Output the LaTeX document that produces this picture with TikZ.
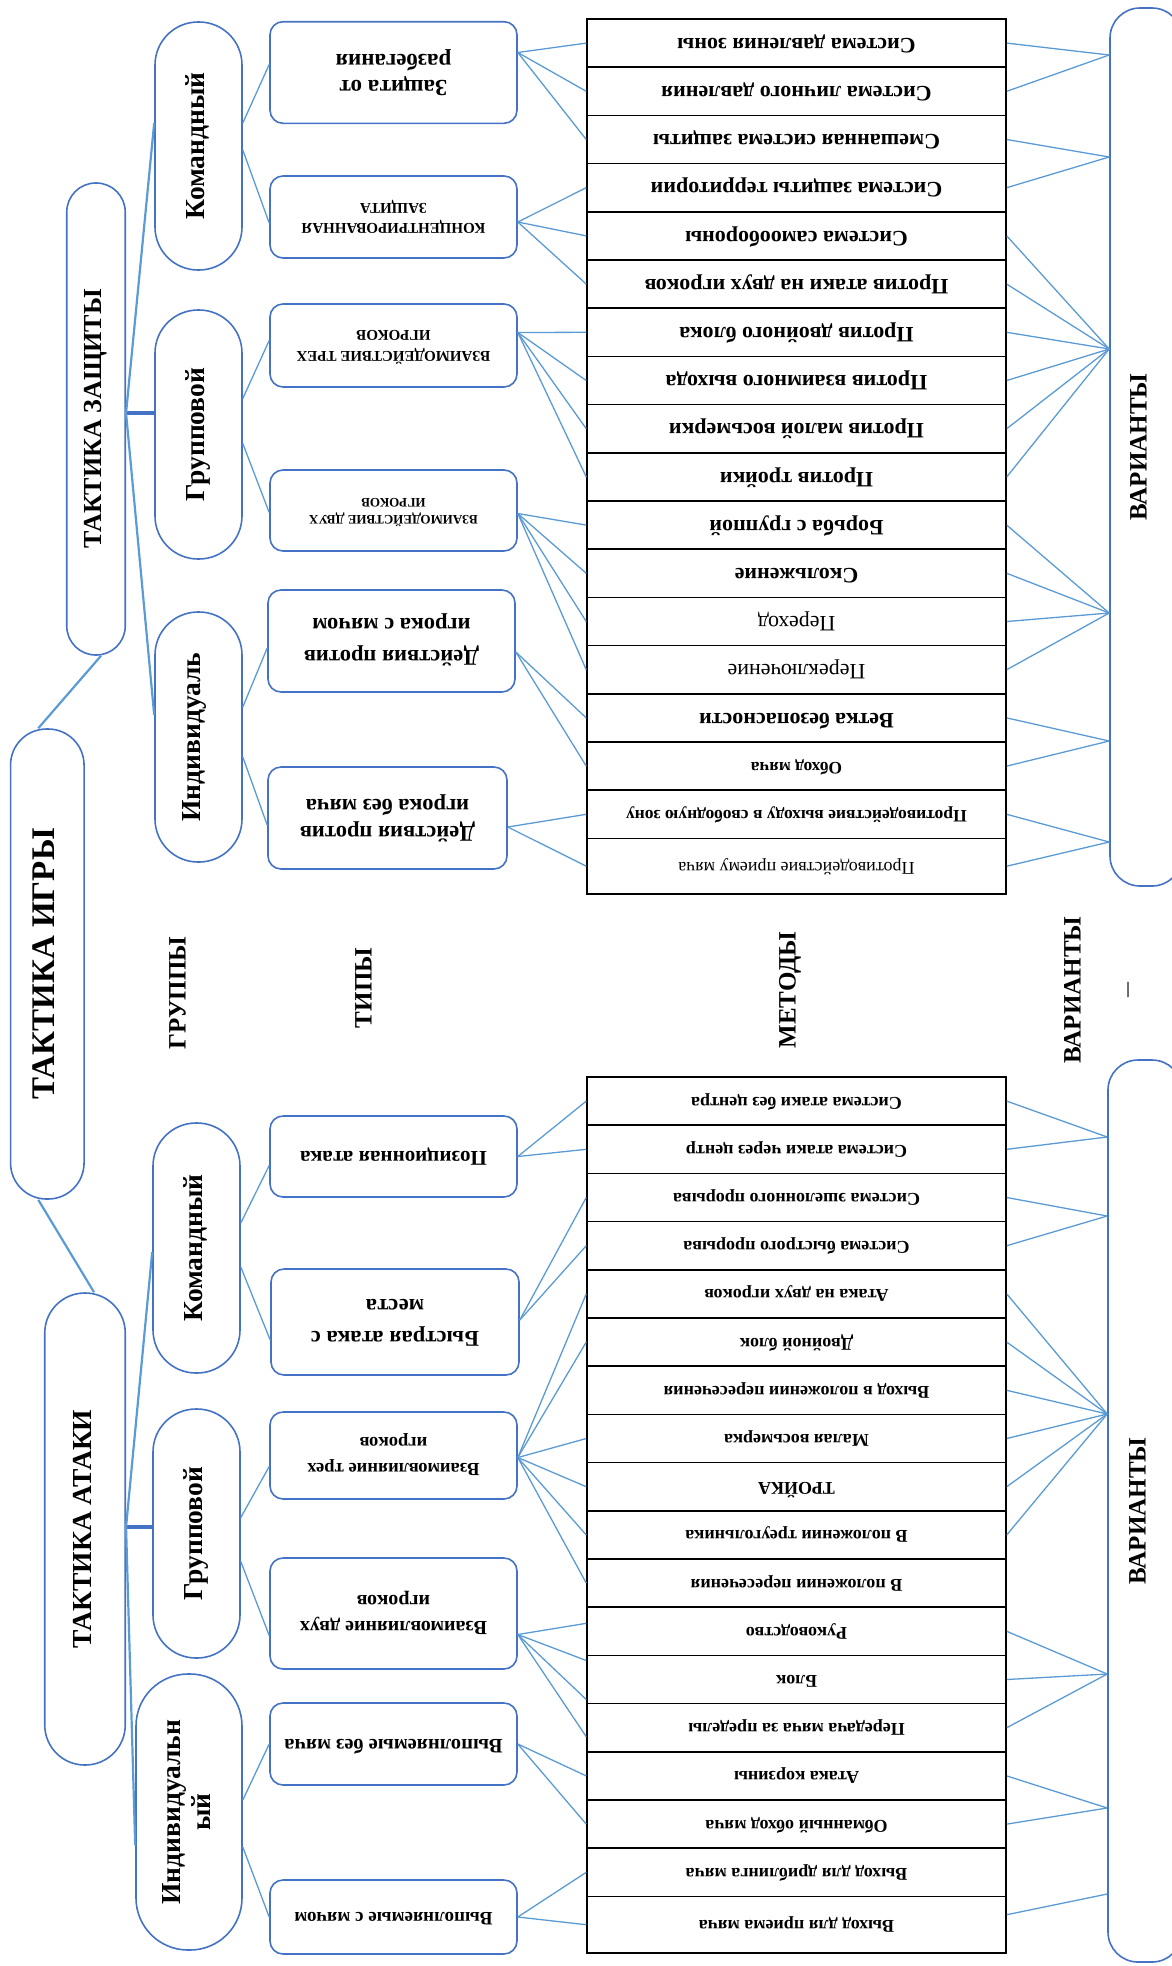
\documentclass[tikz,border=0pt]{standalone}
\usepackage{fontspec}
\usepackage{graphicx}
\setmainfont{Liberation Serif}
\usetikzlibrary{calc}
\definecolor{shapeblue}{RGB}{68,114,196}
\definecolor{linkblue}{RGB}{91,155,213}
% text turned to read upwards / turned upside down
\newcommand\rotL[1]{\rotatebox{90}{\begin{tabular}{@{}c@{}}#1\end{tabular}}}
\newcommand\rotU[1]{\rotatebox{180}{\begin{tabular}{@{}c@{}}#1\end{tabular}}}
\newcommand\fs[2]{\fontsize{#1}{#2}\selectfont}
\tikzset{
  outl/.style={draw=shapeblue, line width=1.6pt, inner sep=0pt},
  tbox/.style={outl, rounded corners=13pt, minimum width=247pt},
  oval/.style={outl, minimum width=87pt, rounded corners=43pt, font=\fs{27.5}{30}\bfseries},
  cell/.style={draw=black, line width=1.5pt, inner sep=0pt, minimum width=419pt, minimum height=48.2pt},
  dbold/.style={cell, font=\fs{22}{24}\bfseries},
  dreg/.style={cell, font=\fs{22}{24}},
  dsmall/.style={cell, font=\fs{17.5}{20}\bfseries},
  dsmallreg/.style={cell, font=\fs{18}{20}},
  abold/.style={cell, font=\fs{18}{20}\bfseries},
  link/.style={draw=linkblue, line width=1.3pt},
  link2/.style={draw=linkblue, line width=2.2pt},
  brace/.style={draw=shapeblue, line width=3.2pt},
  head/.style={font=\fs{25}{28}\bfseries, inner sep=0pt},
}
\begin{document}
\begin{tikzpicture}[x=1pt,y=-1pt]
\useasboundingbox (0,0) rectangle (1171,1966);

% ---------- top level ----------
\node[outl, minimum width=73.5pt, minimum height=470pt, rounded corners=36pt, font=\fs{33}{36}\bfseries] (ti) at (47.3,964) {\rotL{ТАКТИКА ИГРЫ}};
\node[outl, minimum width=58.5pt, minimum height=472pt, rounded corners=29pt, font=\fs{26}{28}\bfseries] (tz) at (96,419) {\rotL{ТАКТИКА ЗАЩИТЫ}};
\node[outl, minimum width=80.5pt, minimum height=472pt, rounded corners=40pt, font=\fs{27.5}{30}\bfseries] (ta) at (85,1529) {\rotL{ТАКТИКА АТАКИ}};

% ---------- groups ----------
\node[oval, minimum height=248pt] (kd) at (198.5,146) {\rotL{Командный}};
\node[oval, minimum height=249pt] (gd) at (198.5,434.5) {\rotL{Групповой}};
\node[oval, minimum height=250pt] (idf) at (198.5,737) {\hspace*{-8pt}\rotL{Индивидуаль}};
\node[oval, minimum height=250pt] (ka) at (196.5,1248) {\rotL{Командный}};
\node[oval, minimum height=249pt] (ga) at (196.5,1533.5) {\rotL{Групповой}};
\node[oval, minimum width=106pt, rounded corners=52pt, minimum height=276pt] (ia) at (189,1812) {\rotL{Индивидуальн\\ый}};

% ---------- column headings ----------
\node[head] (hg) at (180,993) {\rotL{ГРУППЫ}};
\node[head] (ht) at (366,988) {\rotL{ТИПЫ}};
\node[head] (hm) at (790,990) {\rotL{МЕТОДЫ}};
\node[head] (hv) at (1075,990) {\rotL{ВАРИАНТЫ}};
\node[inner sep=0pt, font=\fs{30}{32}, text=black!75] (hdash) at (1132,990) {\rotatebox{90}{–}};

% ---------- defence types ----------
\node[tbox, minimum height=101.6pt, font=\fs{23}{26}\bfseries] (bz1) at (393.5,72.5) {\rotU{Защита от\\разбегания}};
\node[tbox, minimum height=82pt, font=\fs{15}{20}\bfseries] (bz2) at (393.5,217) {\rotU{КОНЦЕНТРИРОВАННАЯ\\ЗАЩИТА}};
\node[tbox, minimum height=83pt, font=\fs{15}{21}\bfseries] (bz3) at (393.5,345.5) {\rotU{ВЗАИМОДЕЙСТВИЕ ТРЕХ\\ИГРОКОВ}};
\node[tbox, minimum height=81pt, font=\fs{13}{17}\bfseries] (bz4) at (393.5,510.5) {\rotU{ВЗАИМОДЕЙСТВИЕ ДВУХ\\ИГРОКОВ}};
\node[tbox, minimum height=102pt, font=\fs{22.5}{32}\bfseries] (bz5) at (391.5,641) {\rotU{Действия против\\игрока с мячом}};
\node[tbox, minimum width=239pt, minimum height=102pt, font=\fs{22.5}{27}\bfseries] (bz6) at (387.5,818) {\rotU{Действия против\\игрока без мяча}};

% ---------- attack types ----------
\node[tbox, minimum height=81pt, font=\fs{21}{24}\bfseries] (ba1) at (393.5,1156.5) {\rotU{Позиционная атака}};
\node[tbox, minimum width=248pt, minimum height=106pt, font=\fs{22.5}{32}\bfseries] (ba2) at (395,1322) {\rotU{Быстрая атака с\\места}};
\node[tbox, minimum height=87pt, font=\fs{18.5}{26}\bfseries] (ba3) at (393.5,1455.5) {\rotU{Взаимовлияние трех\\игроков}};
\node[tbox, minimum height=111pt, font=\fs{20}{26}\bfseries] (ba4) at (393.5,1613.5) {\rotU{Взаимовлияние двух\\игроков}};
\node[tbox, minimum height=82pt, font=\fs{20.5}{24}\bfseries] (ba5) at (393.5,1744) {\rotU{Выполняемые без мяча}};
\node[tbox, minimum height=74pt, font=\fs{19}{22}\bfseries] (ba6) at (393.5,1917) {\rotU{Выполняемые с мячом}};

% ---------- defence methods ----------
\node[dbold] (d1) at (796.5,43.1) {\rotU{Система давления зоны}};
\node[dbold] (d2) at (796.5,91.3) {\rotU{Система личного давления}};
\node[dbold] (d3) at (796.5,139.5) {\rotU{Смешанная система защиты}};
\node[dbold] (d4) at (796.5,187.7) {\rotU{Система защиты территории}};
\node[dbold] (d5) at (796.5,235.9) {\rotU{Система самообороны}};
\node[dbold] (d6) at (796.5,284.1) {\rotU{Против атаки на двух игроков}};
\node[dbold] (d7) at (796.5,332.3) {\rotU{Против двойного блока}};
\node[dbold] (d8) at (796.5,380.5) {\rotU{Против взаимного выхода}};
\node[dbold] (d9) at (796.5,428.7) {\rotU{Против малой восьмерки}};
\node[dbold] (d10) at (796.5,476.9) {\rotU{Против тройки}};
\node[dbold] (d11) at (796.5,525.1) {\rotU{Борьба с группой}};
\node[dbold] (d12) at (796.5,573.3) {\rotU{Скольжение}};
\node[dreg] (d13) at (796.5,621.5) {\rotU{Переход}};
\node[dreg] (d14) at (796.5,669.7) {\rotU{Переключение}};
\node[dbold] (d15) at (796.5,717.9) {\rotU{Ветка безопасности}};
\node[dsmall] (d16) at (796.5,766.1) {\rotU{Обход мяча}};
\node[dsmall] (d17) at (796.5,814.3) {\rotU{Противодействие выходу в свободную зону}};
\node[dsmallreg, minimum height=55.6pt] (d18) at (796.5,866.2) {\rotU{Противодействие приему мяча}};

% ---------- attack methods ----------
\node[abold] (a1) at (796.5,1101.1) {\rotU{Система атаки без центра}};
\node[abold] (a2) at (796.5,1149.3) {\rotU{Система атаки через центр}};
\node[abold] (a3) at (796.5,1197.5) {\rotU{Система эшелонного прорыва}};
\node[abold] (a4) at (796.5,1245.7) {\rotU{Система быстрого прорыва}};
\node[abold] (a5) at (796.5,1293.9) {\rotU{Атака на двух игроков}};
\node[abold] (a6) at (796.5,1342.1) {\rotU{Двойной блок}};
\node[abold] (a7) at (796.5,1390.3) {\rotU{Выход в положении пересечения}};
\node[abold] (a8) at (796.5,1438.5) {\rotU{Малая восьмерка}};
\node[abold] (a9) at (796.5,1486.7) {\rotU{ТРОЙКА}};
\node[abold] (a10) at (796.5,1534.9) {\rotU{В положении треугольника}};
\node[abold] (a11) at (796.5,1583.1) {\rotU{В положении пересечения}};
\node[abold] (a12) at (796.5,1631.3) {\rotU{Руководство}};
\node[abold] (a13) at (796.5,1679.5) {\rotU{Блок}};
\node[abold] (a14) at (796.5,1727.7) {\rotU{Передача мяча за пределы}};
\node[abold] (a15) at (796.5,1775.9) {\rotU{Атака корзины}};
\node[abold] (a16) at (796.5,1824.1) {\rotU{Обманный обход мяча}};
\node[abold] (a17) at (796.5,1872.3) {\rotU{Выход для дриблинга мяча}};
\node[abold, minimum height=56.6pt] (a18) at (796.5,1924.7) {\rotU{Выход для приема мяча}};

% ---------- variants ----------
\node[outl, minimum width=72pt, minimum height=878pt, rounded corners=30pt, font=\fs{25}{28}\bfseries] (vu) at (1146,447) {\hspace*{-10pt}\rotL{ВАРИАНТЫ}};
\node[outl, minimum width=74pt, minimum height=902pt, rounded corners=30pt, font=\fs{25}{28}\bfseries] (vl) at (1145,1511) {\hspace*{-10pt}\rotL{ВАРИАНТЫ}};

% ---------- hierarchy links ----------
\draw[link2] ($(ti.north)+(-9,0)$) -- ($(tz.south)+(5,0)$);
\draw[link2] ($(ti.south)+(-9,0)$) -- ($(ta.north)+(9,0)$);

\coordinate (zb) at ($(tz.east)+(0,-6)$);
\draw[brace] (zb) -- (zb -| gd.west);
\draw[link2] (zb) -- ($(kd.west)+(0,-23)$);
\draw[link2] (zb) -- ($(idf.west)+(0,-22)$);

\coordinate (ab) at ($(ta.east)+(0,-2)$);
\draw[brace] (ab) -- (ab -| ga.west);
\draw[link2] (ab) -- ($(ka.west)+(0,4)$);
\draw[link2] (ab) -- ($(ia.west)+(0,33)$);

% groups to types
\draw[link] ($(kd.east)+(0,-23)$) -- ($(bz1.west)+(0,-8)$);
\draw[link] ($(kd.east)+(0,4)$) -- ($(bz2.west)+(0,6)$);
\draw[link] ($(gd.east)+(0,-36)$) -- ($(bz3.west)+(0,-5)$);
\draw[link] ($(gd.east)+(0,9)$) -- ($(bz4.west)+(0,2)$);
\draw[link] ($(idf.east)+(0,-30)$) -- ($(bz5.west)+(0,7)$);
\draw[link] ($(idf.east)+(0,20)$) -- ($(bz6.west)+(0,7)$);

\draw[link] ($(ka.east)+(0,-25)$) -- ($(ba1.west)+(0,9)$);
\draw[link] ($(ka.east)+(0,19)$) -- ($(ba2.west)+(0,18)$);
\draw[link] ($(ga.east)+(0,-16)$) -- ($(ba3.west)+(0,11)$);
\draw[link] ($(ga.east)+(0,28)$) -- ($(ba4.west)+(0,22)$);
\draw[link] ($(ia.east)+(0,-12)$) -- (ba5.west);
\draw[link] ($(ia.east)+(0,35)$) -- (ba6.west);

% types to methods (defence)
\foreach \r in {1,2,3} \draw[link] ($(bz1.east)+(0,-20)$) -- (d\r.west);
\foreach \r in {4,5,6} \draw[link] ($(bz2.east)+(0,5)$) -- (d\r.west);
\foreach \r in {7,8,9,10} \draw[link] ($(bz3.east)+(0,-13)$) -- (d\r.west);
\foreach \r in {11,12,13,14} \draw[link] ($(bz4.east)+(0,3)$) -- (d\r.west);
\foreach \r in {15,16} \draw[link] ($(bz5.east)+(0,11)$) -- (d\r.west);
\foreach \r in {17,18} \draw[link] ($(bz6.east)+(0,9)$) -- (d\r.west);

% types to methods (attack)
\foreach \r in {1,2} \draw[link] (ba1.east) -- (a\r.west);
\foreach \r in {3,4} \draw[link] ($(ba2.east)+(0,-2)$) -- (a\r.west);
\foreach \r in {5,6,8,9,10,11} \draw[link] ($(ba3.east)+(0,2)$) -- (a\r.west);
\draw[link] ($(ba4.east)+(0,21)$) -- ($(a12.west)+(0,-8)$);
\draw[link] ($(ba4.east)+(0,21)$) -- ($(a13.west)+(0,-19)$);
\draw[link] ($(ba4.east)+(0,21)$) -- ($(a13.west)+(0,20)$);
\draw[link] ($(ba4.east)+(0,21)$) -- ($(a14.west)+(0,9)$);
\foreach \r in {15,16} \draw[link] (ba5.east) -- (a\r.west);
\foreach \r in {17,18} \draw[link] (ba6.east) -- (a\r.west);

% methods to variants (defence)
\foreach \r in {1,2} \draw[link] (d\r.east) -- ($(vu.west)+(0,-392)$);
\foreach \r in {3,4} \draw[link] (d\r.east) -- ($(vu.west)+(0,-290)$);
\foreach \r in {5,...,10} \draw[link] (d\r.east) -- ($(vu.west)+(0,-98)$);
\foreach \r in {11,...,14} \draw[link] (d\r.east) -- ($(vu.west)+(0,166)$);
\foreach \r in {15,16} \draw[link] (d\r.east) -- ($(vu.west)+(0,294)$);
\foreach \r in {17,18} \draw[link] (d\r.east) -- ($(vu.west)+(0,395)$);

% methods to variants (attack)
\foreach \r in {1,2} \draw[link] (a\r.east) -- ($(vl.west)+(0,-374)$);
\foreach \r in {3,4} \draw[link] (a\r.east) -- ($(vl.west)+(0,-295)$);
\foreach \r in {5,...,10} \draw[link] (a\r.east) -- ($(vl.west)+(0,-97)$);
\foreach \r in {12,13,14} \draw[link] (a\r.east) -- ($(vl.west)+(0,163)$);
\foreach \r in {15,16} \draw[link] (a\r.east) -- ($(vl.west)+(0,297)$);
\draw[link] ($(a18.east)+(0,-10)$) -- ($(vl.west)+(0,383)$);
\end{tikzpicture}
\end{document}
